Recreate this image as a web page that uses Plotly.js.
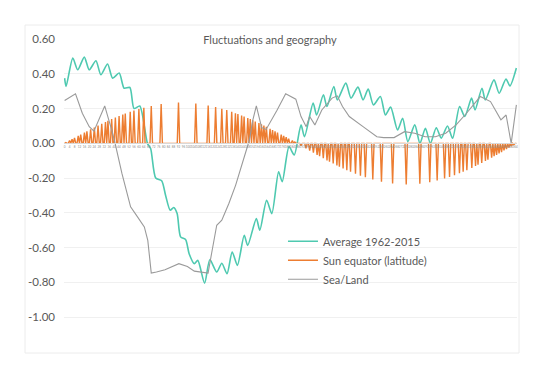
<!DOCTYPE html>
<html><head><meta charset="utf-8">
<script src="https://cdn.plot.ly/plotly-3.0.1.min.js"></script>
<style>html,body{margin:0;padding:0;background:#fff;}#chart{width:540px;height:382px;}</style>
</head><body><div id="chart"></div>
<script>
// Day of the year, counted from the March equinox (0 .. 365)
const avgDays = [0,1.2,6.6,10.6,15.9,19.9,25.3,29.3,34.7,38.8,44.1,48.1,52.7,56.1,60.7,66.9,69.5,73.6,78.4,81.6,85.3,88.1,90.9,93.7,97.8,100.6,104.8,107.6,113.1,117.3,122.9,127.0,131.2,135.4,139.6,145.1,147.9,154.9,157.7,163.2,167.4,172.9,175.8,181.3,185.5,191.0,193.8,200.8,203.6,209.1,211.9,217.5,220.3,227.2,231.4,237.0,241.1,245.3,249.5,255.1,259.2,263.4,269.0,273.1,277.3,282.9,287.1,291.5,295.5,300.3,304.3,309.3,313.5,319.1,323.3,328.8,331.6,337.2,339.9,346.9,351.1,356.6,359.8,365];
const avgValues = [0.375,0.327,0.49,0.423,0.496,0.423,0.475,0.394,0.456,0.375,0.404,0.317,0.321,0.20,0.215,0.00,-0.03,-0.20,-0.215,-0.30,-0.385,-0.369,-0.404,-0.538,-0.554,-0.635,-0.692,-0.673,-0.804,-0.669,-0.740,-0.69,-0.75,-0.625,-0.702,-0.529,-0.587,-0.433,-0.50,-0.327,-0.404,-0.163,-0.221,-0.019,-0.067,0.106,0.038,0.231,0.163,0.279,0.212,0.327,0.25,0.346,0.26,0.323,0.25,0.312,0.221,0.269,0.163,0.208,0.077,0.144,0.01,0.106,0.0,0.087,0.0,0.09,0.03,0.10,0.029,0.212,0.154,0.26,0.192,0.317,0.25,0.365,0.288,0.37,0.33,0.433];

const seaDays = [0,8.8,14.3,19.9,23.7,32.4,38.0,40.8,46.3,53.3,58.9,64.4,67.2,70.0,74.2,81.1,92.3,99.2,104.8,115.9,118.7,122.9,127.0,132.7,138.2,143.8,149.3,152.1,154.9,159.2,162.8,171.6,178.6,186.8,191.0,195.2,198.0,202.2,207.8,216.1,220.3,224.5,230.0,241.1,252.3,257.8,266.2,274.6,282.9,291.2,299.6,307.9,316.3,324.7,335.8,344.1,352.5,356.7,360.8,365];
const seaValues = [0.246,0.285,0.173,0.096,0.07,0.215,0.077,0.0,-0.173,-0.365,-0.423,-0.481,-0.558,-0.746,-0.740,-0.727,-0.692,-0.708,-0.735,-0.746,-0.635,-0.471,-0.442,-0.346,-0.240,-0.115,0.019,0.135,0.215,0.09,0.08,0.19,0.285,0.254,0.154,0.096,0.154,0.106,0.192,0.26,0.273,0.212,0.154,0.096,0.038,0.033,0.033,0.067,0.058,0.038,0.038,0.058,0.106,0.173,0.269,0.240,0.135,0.163,0.0,0.221];

// Sun equator latitude: days with a non-zero reading and the reading (zero on all other days)
const sunSpikeDays = [1,4,6,8,11,13,16,18,21,24,27,30,33,35,38,41,44,47,49,53,56,60,64,70,78,92,106,116,122,127,131,135,138,140,143,145,148,150,152,154,157,159,161,163,166,168,170,172,175,177,179,181,184,186,
191,195,198,201,204,206,209,212,214,217,220,222,225,228,231,235,239,243,249,256,265,276,287,295,301,307,311,315,319,322,325,329,332,334,337,340,342,345,347,349,351,353,355,357,359,361,363];
const sunSpikeValues = [0.004,0.016,0.023,0.031,0.043,0.050,0.062,0.069,0.080,0.091,0.102,0.112,0.123,0.129,0.139,0.148,0.157,0.165,0.171,0.181,0.188,0.197,0.205,0.215,0.226,0.234,0.229,0.218,0.209,0.199,0.191,0.181,0.173,0.168,0.160,0.154,0.145,0.139,0.132,0.126,0.116,0.109,0.102,0.095,0.084,0.077,0.069,0.062,0.050,0.043,0.035,0.027,0.016,0.008,
-0.013,-0.029,-0.042,-0.054,-0.066,-0.074,-0.086,-0.098,-0.105,-0.116,-0.127,-0.134,-0.144,-0.154,-0.163,-0.175,-0.186,-0.195,-0.208,-0.221,-0.231,-0.236,-0.232,-0.223,-0.214,-0.202,-0.193,-0.183,-0.172,-0.163,-0.154,-0.141,-0.130,-0.123,-0.113,-0.102,-0.094,-0.082,-0.074,-0.066,-0.058,-0.050,-0.041,-0.033,-0.025,-0.017,-0.008];

const seriesNames = ['Average 1962-2015','Sun equator (latitude)','Sea/Land'];
const yTickValues = [0.6,0.4,0.2,0,-0.2,-0.4,-0.6,-0.8,-1.0];

const sunDaysAll = [];
const sunValuesAll = [];
for (let d = 0; d <= 365; d++) { sunDaysAll.push(d); sunValuesAll.push(0); }
sunSpikeDays.forEach((d, i) => { sunValuesAll[d] = sunSpikeValues[i]; });

const traces = [
  {x: avgDays, y: avgValues, name: seriesNames[0], type: 'scatter', mode: 'lines',
   line: {color: '#4ec9b0', width: 1.6, shape: 'spline', smoothing: 0.7}},
  {x: sunDaysAll, y: sunValuesAll, name: seriesNames[1], type: 'scatter', mode: 'lines',
   line: {color: '#ed7d31', width: 1.4}},
  {x: seaDays, y: seaValues, name: seriesNames[2], type: 'scatter', mode: 'lines',
   line: {color: '#9a9a9a', width: 1.1}}
];

const fontFam = 'Lato, "Open Sans", sans-serif';
const layout = {
  width: 540, height: 382,
  margin: {l: 64, r: 23, t: 39, b: 30},
  paper_bgcolor: '#ffffff', plot_bgcolor: '#ffffff',
  title: {text: 'Fluctuations and geography', font: {family: fontFam, size: 11, color: '#595959'},
          x: 0.5, xanchor: 'center', xref: 'container', y: 1 - 40/382, yanchor: 'middle', yref: 'container'},
  showlegend: true,
  legend: {x: 0.4834, y: 0.400, xanchor: 'left', yanchor: 'top', bgcolor: 'rgba(0,0,0,0)',
           font: {family: fontFam, size: 11, color: '#595959'}, itemwidth: 30, tracegroupgap: 0},
  xaxis: {range: [-0.5, 365.5], anchor: 'free', position: 1.2/1.8, showgrid: false, zeroline: false,
          showline: true, linecolor: '#d9d9d9', linewidth: 1,
          tickmode: 'linear', tick0: 0, dtick: 4, tickangle: 0,
          tickfont: {family: fontFam, size: 3, color: '#8c8c8c'}, ticks: ''},
  yaxis: {range: [-1.2, 0.6], tickmode: 'array', tickvals: yTickValues,
          ticktext: yTickValues.map(v => v.toFixed(2)),
          tickfont: {family: fontFam, size: 11.5, color: '#595959'},
          showgrid: true, gridcolor: '#f0f0f0', gridwidth: 1, zeroline: false, showline: false,
          ticks: '', ticklabelstandoff: 8},
  shapes: [{type: 'rect', xref: 'paper', yref: 'paper',
            x0: (25-64)/453, x1: (519-64)/453, y0: (352-353)/313, y1: (352-25)/313,
            line: {color: '#ececec', width: 1}, fillcolor: 'rgba(0,0,0,0)', layer: 'below'}]
};

Plotly.newPlot('chart', traces, layout, {displayModeBar: false, staticPlot: true});
</script></body></html>
